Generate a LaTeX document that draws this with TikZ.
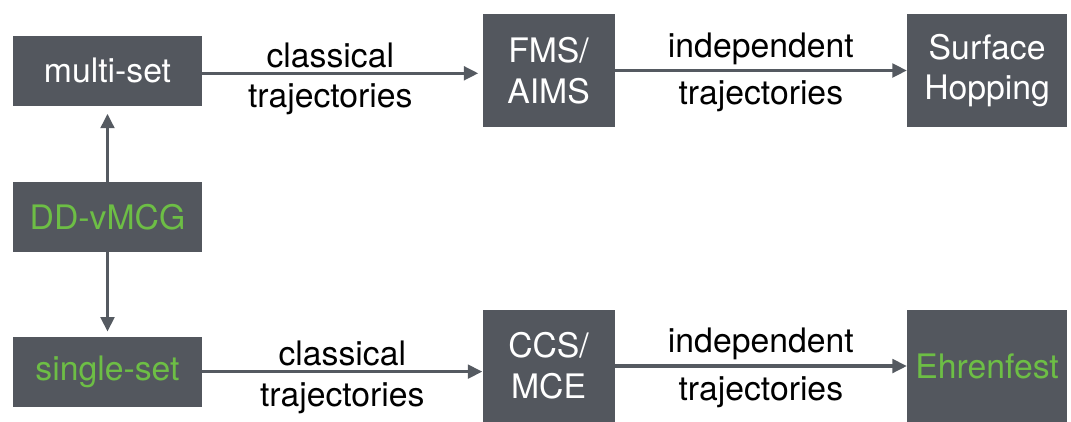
\documentclass[tikz,border=0pt]{standalone}
\usepackage{fontspec}
\setmainfont{TeX Gyre Heros}
\usepackage{xcolor}
\usepackage{tikz}
\usetikzlibrary{arrows.meta, positioning}
\definecolor{boxgray}{RGB}{83,87,94}
\definecolor{arrowgray}{RGB}{85,90,97}
\definecolor{mcggreen}{RGB}{109,190,69}
\tikzset{
  block/.style={rectangle, fill=boxgray, text=white, align=center,
    inner sep=0pt, font=\fontsize{24}{29}\selectfont},
  setblock/.style={block, minimum width=4.725cm, minimum height=1.75cm},
  midblock/.style={block, minimum width=3.3cm, minimum height=2.825cm},
  endblock/.style={block, minimum width=4.0cm, minimum height=2.825cm},
  greentext/.style={text=mcggreen},
  arrow/.style={-{Triangle[length=0.36cm, width=0.34cm]}, line width=2.2pt,
    color=arrowgray},
  lbl/.style={font=\fontsize{24}{28}\selectfont, text=black, inner sep=3pt},
  toplbl/.style={lbl, midway, above},
  botlbl/.style={lbl, midway, below, yshift=-0.12cm},
}
\begin{document}
\begin{tikzpicture}
  \useasboundingbox (-2.6875,1.7625) rectangle (24.0875,-8.7625);
  % left column
  \node[setblock] (multi) {multi-set};
  \node[setblock, greentext, below=1.9cm of multi] (ddvmcg) {DD-vMCG};
  \node[setblock, greentext, below=2.1cm of ddvmcg] (single) {single-set};
  % upper row
  \node[midblock, right=7cm of multi] (fms) {FMS/\\AIMS};
  \node[endblock, right=7.3cm of fms] (sh) {Surface\\Hopping};
  % lower row
  \node[midblock, right=7cm of single, yshift=0.14cm] (ccs) {CCS/\\MCE};
  \node[endblock, greentext, right=7.3cm of ccs] (ehr) {Ehrenfest};
  % connectors
  \draw[arrow] (ddvmcg) -- ([yshift=-0.2cm]multi.south);
  \draw[arrow] (ddvmcg) -- ([yshift=0.12cm]single.north);
  \draw[arrow, shorten >=0.1cm] ([yshift=-0.07cm]multi.east) -- ([yshift=-0.07cm]fms.west |- multi.east)
    node[toplbl, xshift=-0.3cm] {classical}
    node[botlbl, xshift=-0.3cm] {trajectories};
  \draw[arrow] (fms) -- (sh)
    node[toplbl] {independent}
    node[botlbl] {trajectories};
  \draw[arrow] (single.east) -- (ccs.west |- single.east)
    node[toplbl] {classical}
    node[botlbl] {trajectories};
  \draw[arrow] (ccs) -- (ehr)
    node[toplbl] {independent}
    node[botlbl] {trajectories};
\end{tikzpicture}
\end{document}
